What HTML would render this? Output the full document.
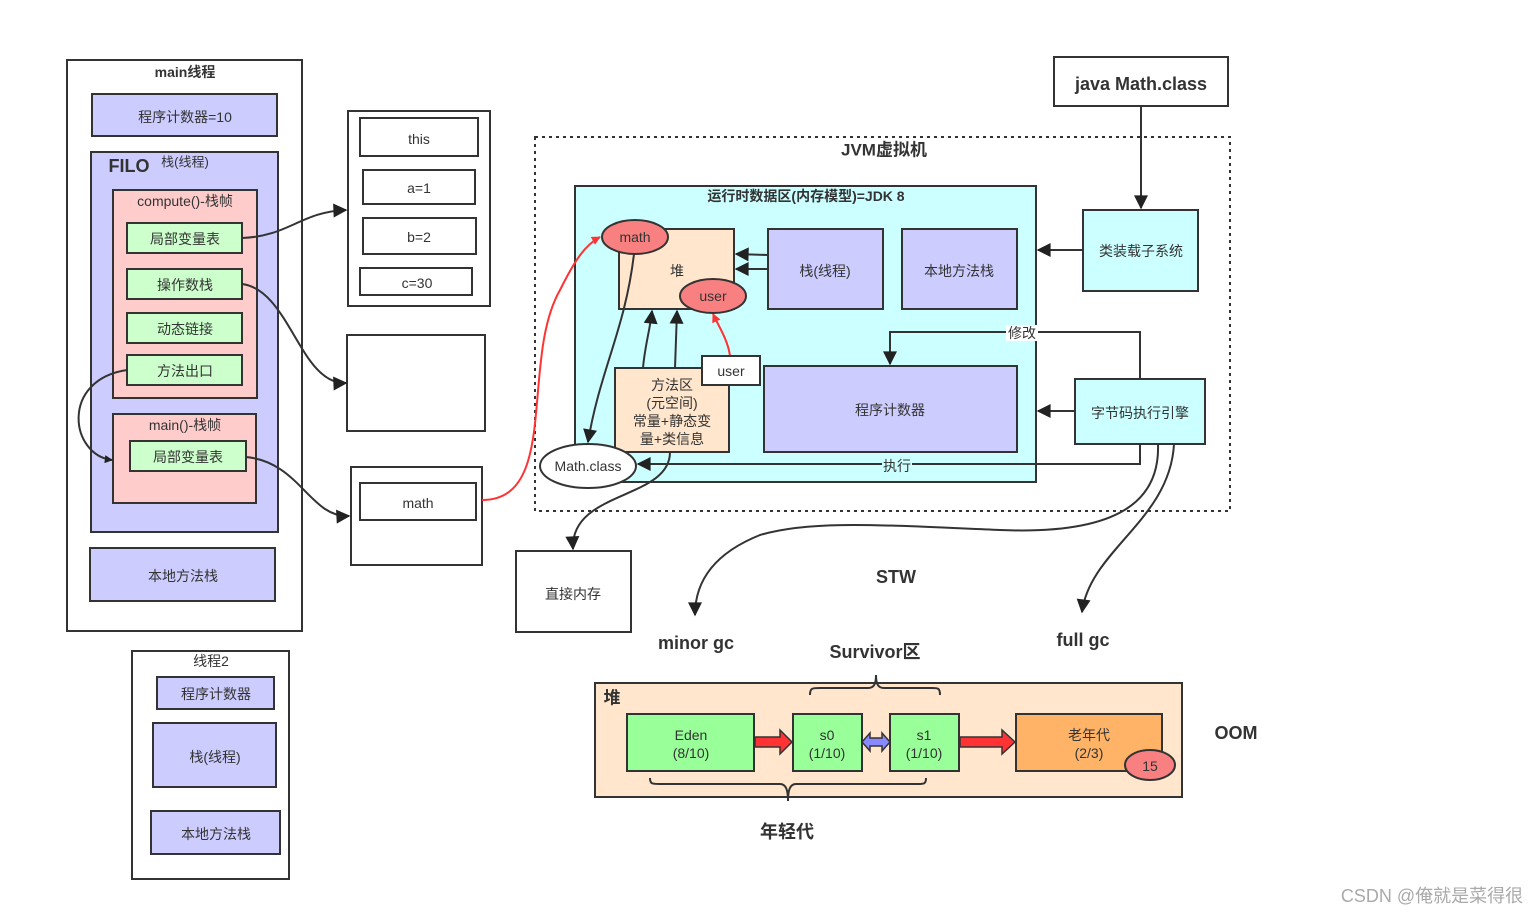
<!DOCTYPE html>
<html><head><meta charset="utf-8"><style>
html,body{margin:0;padding:0;background:#fff;}
svg{display:block;}
text{font-family:"Liberation Sans","Noto Sans CJK SC",sans-serif;font-size:14px;fill:#333;text-anchor:middle;dominant-baseline:central;}
.b{font-weight:bold;}
.r{stroke:#333;stroke-width:2;}
</style></head><body>
<svg width="1538" height="916" viewBox="0 0 1538 916" xmlns="http://www.w3.org/2000/svg">
<defs>
<marker id="a" viewBox="0 0 10 10" refX="9" refY="5" markerWidth="8" markerHeight="8" orient="auto-start-reverse" markerUnits="userSpaceOnUse"><path d="M0,0 L10,5 L0,10 Z" fill="#222"/></marker>
<marker id="ar" viewBox="0 0 10 10" refX="9" refY="5" markerWidth="9" markerHeight="11" orient="auto" markerUnits="userSpaceOnUse"><path d="M0,0 L10,5 L0,10 Z" fill="#f33"/></marker>
<marker id="ab" viewBox="0 0 10 10" refX="9" refY="5" markerWidth="18" markerHeight="14" orient="auto" markerUnits="userSpaceOnUse"><path d="M0,0 L10,5 L0,10 Z" fill="#222"/></marker>
</defs>
<rect width="1538" height="916" fill="#fff"/>

<!-- main thread -->
<rect x="67" y="60" width="235" height="571" fill="#fff" class="r"/>
<text x="185" y="72" class="b">main线程</text>
<rect x="92" y="94" width="185" height="42" fill="#ccccff" class="r"/>
<text x="185" y="117">程序计数器=10</text>
<rect x="91" y="152" width="187" height="380" fill="#ccccff" class="r"/>
<text x="129" y="166" class="b" style="font-size:18px">FILO</text>
<text x="185" y="162" style="font-size:13px">栈(线程)</text>
<rect x="113" y="190" width="144" height="208" fill="#ffcccc" class="r"/>
<text x="185" y="201">compute()-栈帧</text>
<rect x="127" y="223" width="115" height="30" fill="#ccffcc" class="r"/><text x="185" y="239">局部变量表</text>
<rect x="127" y="269" width="115" height="30" fill="#ccffcc" class="r"/><text x="185" y="285">操作数栈</text>
<rect x="127" y="313" width="115" height="30" fill="#ccffcc" class="r"/><text x="185" y="329">动态链接</text>
<rect x="127" y="355" width="115" height="30" fill="#ccffcc" class="r"/><text x="185" y="371">方法出口</text>
<rect x="113" y="414" width="143" height="89" fill="#ffcccc" class="r"/>
<text x="185" y="425">main()-栈帧</text>
<rect x="130" y="441" width="116" height="30" fill="#ccffcc" class="r"/><text x="188" y="457">局部变量表</text>
<rect x="90" y="548" width="185" height="53" fill="#ccccff" class="r"/><text x="183" y="576">本地方法栈</text>

<!-- thread 2 -->
<rect x="132" y="651" width="157" height="228" fill="#fff" class="r"/>
<text x="211" y="661">线程2</text>
<rect x="157" y="677" width="117" height="32" fill="#ccccff" class="r"/><text x="216" y="694">程序计数器</text>
<rect x="153" y="723" width="123" height="64" fill="#ccccff" class="r"/><text x="215" y="757">栈(线程)</text>
<rect x="151" y="811" width="129" height="43" fill="#ccccff" class="r"/><text x="216" y="834">本地方法栈</text>

<!-- frame detail -->
<rect x="348" y="111" width="142" height="195" fill="#fff" class="r"/>
<rect x="360" y="118" width="118" height="38" fill="#fff" class="r"/><text x="419" y="139">this</text>
<rect x="363" y="170" width="112" height="34" fill="#fff" class="r"/><text x="419" y="188">a=1</text>
<rect x="363" y="218" width="113" height="36" fill="#fff" class="r"/><text x="419" y="237">b=2</text>
<rect x="360" y="268" width="112" height="27" fill="#fff" class="r"/><text x="417" y="283">c=30</text>
<rect x="347" y="335" width="138" height="96" fill="#fff" class="r"/>
<rect x="351" y="467" width="131" height="98" fill="#fff" class="r"/>
<rect x="360" y="483" width="116" height="37" fill="#fff" class="r"/><text x="418" y="503">math</text>
<rect x="516" y="551" width="115" height="81" fill="#fff" class="r"/><text x="573" y="594">直接内存</text>

<!-- connectors left -->
<path d="M242,238 C290,236 300,212 346,210" fill="none" class="r" marker-end="url(#ab)"/>
<path d="M242,284 C290,290 300,385 346,383" fill="none" class="r" marker-end="url(#ab)"/>
<path d="M127,370 C60,380 70,455 112,460" fill="none" class="r" marker-end="url(#a)"/>
<path d="M246,457 C300,462 310,518 349,516" fill="none" class="r" marker-end="url(#ab)"/>

<!-- JVM -->
<rect x="535" y="137" width="695" height="374" fill="none" stroke="#333" stroke-width="2" stroke-dasharray="3,4"/>
<text x="884" y="150" class="b" style="font-size:17px">JVM虚拟机</text>
<rect x="575" y="186" width="461" height="296" fill="#ccffff" class="r"/>
<text x="806" y="196" class="b" style="font-size:14px">运行时数据区(内存模型)=JDK 8</text>
<path d="M482,500 C560,500 520,360 560,290 C575,260 585,245 600,237" fill="none" stroke="#f33" stroke-width="2" marker-end="url(#ar)"/>
<rect x="619" y="229" width="115" height="80" fill="#ffe6cc" class="r"/>
<text x="677" y="271">堆</text>
<rect x="768" y="229" width="115" height="80" fill="#ccccff" class="r"/><text x="825" y="271">栈(线程)</text>
<rect x="902" y="229" width="115" height="80" fill="#ccccff" class="r"/><text x="959" y="271">本地方法栈</text>
<path d="M768,255 L736,254" class="r" marker-end="url(#ab)"/>
<path d="M768,269 L736,269" class="r" marker-end="url(#ab)"/>
<rect x="615" y="368" width="114" height="84" fill="#ffe6cc" class="r"/>
<text x="672" y="385">方法区</text><text x="672" y="403">(元空间)</text><text x="672" y="421">常量+静态变</text><text x="672" y="439">量+类信息</text>
<rect x="764" y="366" width="253" height="86" fill="#ccccff" class="r"/><text x="890" y="410">程序计数器</text>
<path d="M643,368 C645,345 650,330 652,311" fill="none" class="r" marker-end="url(#ab)"/>
<path d="M675,368 L677,311" fill="none" class="r" marker-end="url(#ab)"/>
<path d="M634,254 C625,330 600,370 588,442" fill="none" class="r" marker-end="url(#ab)"/>
<path d="M730,356 C728,340 718,325 713,314" fill="none" stroke="#f33" stroke-width="2" marker-end="url(#ar)"/>
<ellipse cx="635" cy="237" rx="33" ry="17" fill="#f88080" class="r"/><text x="635" y="237">math</text>
<ellipse cx="713" cy="296" rx="33" ry="17" fill="#f88080" class="r"/><text x="713" y="296">user</text>
<rect x="702" y="356" width="58" height="29" fill="#fff" class="r"/><text x="731" y="371">user</text>
<path d="M670,452 C670,500 570,490 573,549" fill="none" class="r" marker-end="url(#ab)"/>
<ellipse cx="588" cy="466" rx="48" ry="22" fill="#fff" class="r"/><text x="588" y="466">Math.class</text>
<path d="M1140,444 L1140,464 L638,464" fill="none" class="r" marker-end="url(#ab)"/>
<rect x="882" y="458" width="30" height="15" fill="#ccffff"/><text x="897" y="466">执行</text>
<path d="M1140,379 L1140,332 L890,332 L890,364" fill="none" class="r" marker-end="url(#ab)"/>
<rect x="1006" y="325" width="32" height="16" fill="#fff"/><text x="1022" y="333">修改</text>

<rect x="1054" y="57" width="174" height="49" fill="#fff" class="r"/>
<text x="1141" y="84" class="b" style="font-size:18px">java Math.class</text>
<path d="M1141,106 L1141,208" class="r" marker-end="url(#ab)"/>
<rect x="1083" y="210" width="115" height="81" fill="#ccffff" class="r"/><text x="1141" y="251">类装载子系统</text>
<path d="M1083,250 L1038,250" class="r" marker-end="url(#ab)"/>
<rect x="1075" y="379" width="130" height="65" fill="#ccffff" class="r"/><text x="1140" y="413">字节码执行引擎</text>
<path d="M1075,411 L1038,411" class="r" marker-end="url(#ab)"/>

<path d="M1158,444 C1160,500 1120,535 1000,530 C880,525 810,520 760,535 C710,555 695,585 695,615" fill="none" class="r" marker-end="url(#ab)"/>
<path d="M1174,444 C1170,520 1090,550 1082,612" fill="none" class="r" marker-end="url(#ab)"/>

<text x="896" y="577" class="b" style="font-size:18px">STW</text>
<text x="696" y="643" class="b" style="font-size:18px">minor gc</text>
<text x="1083" y="640" class="b" style="font-size:18px">full gc</text>
<text x="875" y="652" class="b" style="font-size:18px">Survivor区</text>
<text x="1236" y="733" class="b" style="font-size:18px">OOM</text>
<text x="787" y="832" class="b" style="font-size:18px">年轻代</text>

<!-- heap bottom -->
<rect x="595" y="683" width="587" height="114" fill="#ffe6cc" class="r"/>
<text x="612" y="698" class="b" style="font-size:17px">堆</text>
<path d="M810,695 C810,688 812,688 820,688 L868,688 C874,688 876,684 876,675 C876,684 878,688 884,688 L932,688 C938,688 940,688 940,695" fill="none" stroke="#333" stroke-width="2"/>
<path d="M650,778 C650,784 652,784 660,784 L780,784 C786,784 788,790 788,801 C788,790 790,784 796,784 L918,784 C924,784 926,784 926,778" fill="none" stroke="#333" stroke-width="2"/>
<rect x="627" y="714" width="127" height="57" fill="#99ff99" class="r"/><text x="691" y="735">Eden</text><text x="691" y="753">(8/10)</text>
<rect x="793" y="714" width="69" height="57" fill="#99ff99" class="r"/><text x="827" y="735">s0</text><text x="827" y="753">(1/10)</text>
<rect x="890" y="714" width="69" height="57" fill="#99ff99" class="r"/><text x="924" y="735">s1</text><text x="924" y="753">(1/10)</text>
<rect x="1016" y="714" width="146" height="57" fill="#ffb366" class="r"/><text x="1089" y="735">老年代</text><text x="1089" y="753">(2/3)</text>
<ellipse cx="1150" cy="765" rx="25" ry="15" fill="#f88080" class="r"/><text x="1150" y="766">15</text>
<path d="M755,737 L780,737 L780,730 L792,742 L780,754 L780,747 L755,747 Z" fill="#f33" stroke="#333" stroke-width="1.5"/>
<path d="M960,737 L1002,737 L1002,730 L1015,742 L1002,754 L1002,747 L960,747 Z" fill="#f33" stroke="#333" stroke-width="1.5"/>
<path d="M862,742 L870,733 L870,738 L882,738 L882,733 L890,742 L882,751 L882,746 L870,746 L870,751 Z" fill="#8888ff" stroke="#333" stroke-width="1.5"/>

<text x="1432" y="896" style="font-size:18px;fill:#aaa">CSDN @俺就是菜得很</text>
</svg>
</body></html>
